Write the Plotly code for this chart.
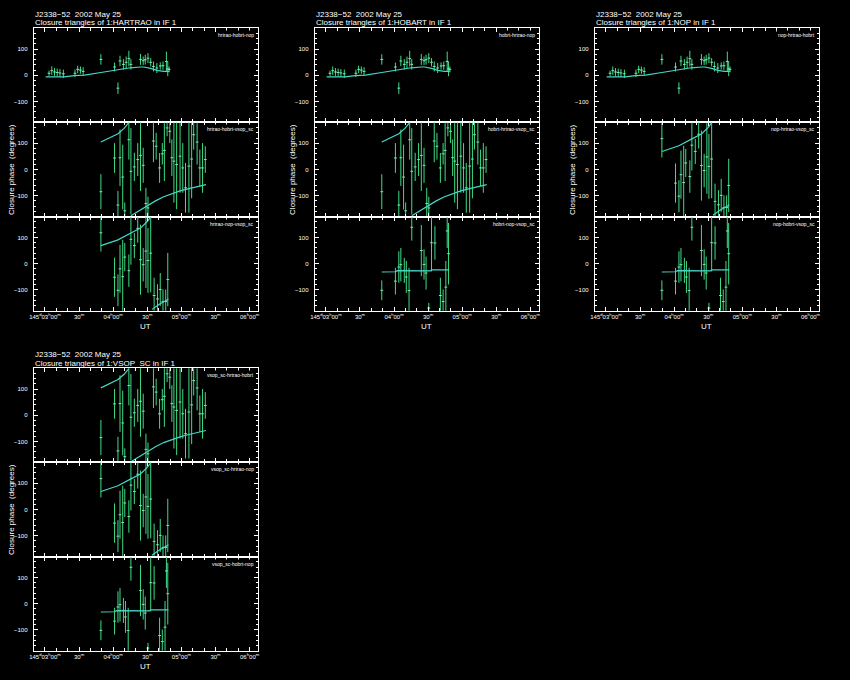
import plotly.graph_objects as go

W, H = 850, 680

# ---------------- data (UT hours, closure phase in degrees) ----------------
# Triangle A : HARTRAO-HOBART-NOP
A_t = [3.06, 3.10, 3.14, 3.18, 3.22, 3.27, 3.44, 3.48, 3.52, 3.56, 3.82, 4.02, 4.07, 4.10, 4.15,
       4.19, 4.23, 4.26, 4.40, 4.44, 4.47, 4.51, 4.55, 4.59, 4.64, 4.69, 4.73, 4.78, 4.80, 4.82]
A_phase = [8, 18, 13, 11, 9, 6, 8, 23, 20, 15, 61, 32, -49, 55, 42,
           50, 64, 42, 61, 56, 60, 66, 50, 34, 28, 36, 37, 53, 25, 23]
A_err = [10, 16, 15, 15, 15, 16, 14, 14, 14, 16, 20, 17, 22, 20, 20,
         22, 30, 20, 21, 16, 19, 19, 16, 19, 19, 14, 16, 38, 28, 11]
A_model_t = [3.01, 3.28, 3.43, 3.58, 3.82, 4.01, 4.16, 4.25, 4.40, 4.45, 4.55, 4.64, 4.74, 4.82]
A_model_v = [-6, -6, -1, 1, 11, 19, 24, 29, 32, 32, 27, 19, 15, 15]

# Triangle B : HARTRAO-HOBART-VSOP_SC
B_t = [3.82, 4.02, 4.07, 4.10, 4.14, 4.17, 4.23, 4.26, 4.31, 4.36, 4.40, 4.44, 4.48, 4.51, 4.59,
       4.63, 4.68, 4.72, 4.75, 4.79, 4.83, 4.86, 4.89, 4.93, 4.98, 5.02, 5.06, 5.11, 5.15, 5.18,
       5.23, 5.27, 5.31, 5.35]
B_phase = [-85, 44, -136, 45, -29, -158, 114, -7, 10, 38, 54, 16, -130, -147, 109,
           89, 6, 60, 73, 159, 146, 45, 32, 19, 51, 6, -70, 13, 40, 133,
           105, 6, 6, 38]
B_err = [67, 57, 54, 108, 124, 32, 76, 165, 54, 63, 136, 67, 60, 43, 81,
         51, 57, 41, 117, 32, 45, 70, 159, 171, 140, 95, 95, 178, 150, 57,
         86, 70, 95, 51]
B_model_t = [3.82, 3.95, 4.07, 4.16, 4.23, 4.26, 4.38, 4.50, 4.62, 4.74, 4.86, 4.98, 5.08, 5.18, 5.28, 5.36]
B_model_v = [105, 121, 137, 157, 179, -177, -157, -137, -120, -104, -92, -82, -75, -68, -63, -58]

# Triangle C : HARTRAO-NOP-VSOP_SC
C_t = [3.82, 4.02, 4.07, 4.10, 4.14, 4.17, 4.23, 4.26, 4.31, 4.36, 4.40, 4.44, 4.48, 4.51, 4.55,
       4.60, 4.65, 4.69, 4.73, 4.77, 4.80]
C_phase = [118, -52, -102, -20, -50, 25, -27, 93, 69, 135, 15, -4, 48, 12, 40,
           -122, -135, -99, -145, -145, -61]
C_err = [72, 75, 61, 92, 141, 54, 62, 97, 48, 55, 134, 64, 141, 124, 150,
         68, 56, 63, 46, 46, 102]
C_model_t = [3.82, 4.07, 4.26, 4.40, 4.50, 4.55, 4.57, 4.67, 4.76, 4.81]
C_model_v = [69, 91, 117, 136, 161, 178, -175, -156, -143, -135]

# Triangle D : HOBART-NOP-VSOP_SC
D_t = [3.82, 4.02, 4.07, 4.10, 4.15, 4.18, 4.22, 4.26, 4.40, 4.44, 4.47, 4.51, 4.55, 4.60, 4.68,
       4.72, 4.76, 4.78, 4.80]
D_phase = [-102, -67, -13, -4, -26, -51, -103, 139, 50, -3, -36, -170, 80, 79, -122,
           -145, -90, 125, 38]
D_err = [38, 51, 60, 64, 48, 61, 87, 51, 98, 58, 63, 20, 110, 64, 68,
         46, 100, 65, 118]
D_model_t = [3.82, 4.02, 4.05, 4.40, 4.44, 4.53, 4.55, 4.81]
D_model_v = [-32, -31, -27, -27, -28, -28, -24, -24]

TRI = {
    "A": (A_t, A_phase, A_err, A_model_t, A_model_v),
    "B": (B_t, B_phase, B_err, B_model_t, B_model_v),
    "C": (C_t, C_phase, C_err, C_model_t, C_model_v),
    "D": (D_t, D_phase, D_err, D_model_t, D_model_v),
}

x_tick_vals = [3.0, 3.5, 4.0, 4.5, 5.0, 5.5, 6.0]
x_tick_text = ["145<sup>d</sup>03<sup>h</sup>00<sup>m</sup>", "30<sup>m</sup>",
               "04<sup>h</sup>00<sup>m</sup>", "30<sup>m</sup>",
               "05<sup>h</sup>00<sup>m</sup>", "30<sup>m</sup>",
               "06<sup>h</sup>00<sup>m</sup>"]
y_tick_vals = [-100, 0, 100]
y_tick_text = ["\u2212100", "0", "100"]

title1 = "J2338\u221252  2002 May 25"
panels = [
    ("Closure triangles of 1:HARTRAO in IF 1", 29, 255, 28.3,
     [("A", "hrtrao-hobrt-nop"), ("B", "hrtrao-hobrt-vsop_sc"), ("C", "hrtrao-nop-vsop_sc")]),
    ("Closure triangles of 1:HOBART in IF 1", 312.3, 538, 28.3,
     [("A", "hobrt-hrtrao-nop"), ("B", "hobrt-hrtrao-vsop_sc"), ("D", "hobrt-nop-vsop_sc")]),
    ("Closure triangles of 1:NOP in IF 1", 594.7, 820.5, 28.3,
     [("A", "nop-hrtrao-hobrt"), ("C", "nop-hrtrao-vsop_sc"), ("D", "nop-hobrt-vsop_sc")]),
    ("Closure triangles of 1:VSOP_SC in IF 1", 29, 255, 368.3,
     [("B", "vsop_sc-hrtrao-hobrt"), ("C", "vsop_sc-hrtrao-nop"), ("D", "vsop_sc-hobrt-nop")]),
]

XR = [2.836, 6.121]
ROWH = 94.13
BAR = "#3fdc86"
MODEL = "#46d8c8"
FONT = "Liberation Sans"

fig = go.Figure()
layout = dict(width=W, height=H, margin=dict(l=0, r=0, t=0, b=0),
              paper_bgcolor="black", plot_bgcolor="black", showlegend=False,
              font=dict(family=FONT, color="white"))
annotations = []

minor_x = [3 + i / 6 for i in range(-1, 20)]
minor_x = [v for v in minor_x if XR[0] < v < XR[1]]
minor_y = [-160, -140, -120, -80, -60, -40, -20, 20, 40, 60, 80, 120, 140, 160]


def split_wrap(ts, vs):
    xs, ys = [], []
    for i, (t, v) in enumerate(zip(ts, vs)):
        if i > 0 and abs(v - vs[i - 1]) > 180:
            xs.append(None)
            ys.append(None)
        xs.append(t)
        ys.append(v)
    return xs, ys


k = 0
for (t2, x0, x1, top, rows) in panels:
    annotations.append(dict(text=title1, x=x0 / W, y=1 - (top - 13.8) / H, xref="paper", yref="paper",
                            xanchor="left", yanchor="middle", showarrow=False, borderpad=0,
                            font=dict(size=8, color="white", family=FONT)))
    annotations.append(dict(text=t2, x=x0 / W, y=1 - (top - 5.3) / H, xref="paper", yref="paper",
                            xanchor="left", yanchor="middle", showarrow=False, borderpad=0,
                            font=dict(size=8, color="white", family=FONT)))
    annotations.append(dict(text="Closure phase  (degrees)", x=(x0 - 22.5) / W,
                            y=1 - (top + 1.5 * ROWH) / H, xref="paper", yref="paper",
                            textangle=-90, xanchor="center", yanchor="middle", showarrow=False,
                            font=dict(size=8, color="white", family=FONT)))
    annotations.append(dict(text="UT", x=(x0 + x1) / 2 / W, y=1 - (top + 3 * ROWH + 16) / H,
                            xref="paper", yref="paper", xanchor="center", yanchor="middle",
                            showarrow=False, font=dict(size=8, color="white", family=FONT)))
    for r, (key, lab) in enumerate(rows):
        k += 1
        sfx = "" if k == 1 else str(k)
        ytop = top + r * ROWH
        ybot = ytop + ROWH
        bottom_row = (r == 2)
        layout["xaxis" + sfx] = dict(
            domain=[x0 / W, x1 / W], range=XR, anchor="y" + sfx,
            showline=True, linecolor="white", linewidth=1, mirror="ticks",
            ticks="inside", ticklen=4, tickcolor="white", tickwidth=1,
            tickmode="array", tickvals=x_tick_vals, ticktext=x_tick_text,
            showticklabels=bottom_row, tickfont=dict(size=6, color="white", family=FONT),
            minor=dict(tickmode="array", tickvals=minor_x, ticks="inside", ticklen=3,
                       tickcolor="white", tickwidth=1),
            showgrid=False, zeroline=False, fixedrange=True)
        layout["yaxis" + sfx] = dict(
            domain=[1 - ybot / H, 1 - ytop / H], range=[-180, 180], anchor="x" + sfx,
            showline=True, linecolor="white", linewidth=1, mirror="ticks",
            ticks="inside", ticklen=4, tickcolor="white", tickwidth=1,
            tickmode="array", tickvals=y_tick_vals, ticktext=y_tick_text,
            tickfont=dict(size=6, color="white", family=FONT), ticklabelstandoff=4,
            minor=dict(tickmode="array", tickvals=minor_y, ticks="inside", ticklen=2,
                       tickcolor="white", tickwidth=1),
            showgrid=False, zeroline=False, fixedrange=True)
        t, ph, er, mt, mv = TRI[key]
        fig.add_trace(go.Scatter(
            x=t, y=ph, mode="markers", xaxis="x" + sfx, yaxis="y" + sfx,
            marker=dict(symbol="line-ew", size=2, line=dict(width=1, color="#7fe9ae")),
            error_y=dict(type="data", array=er, visible=True, thickness=1, width=0, color=BAR),
            hoverinfo="skip"))
        mx, my = split_wrap(mt, mv)
        fig.add_trace(go.Scatter(
            x=mx, y=my, mode="lines", xaxis="x" + sfx, yaxis="y" + sfx,
            line=dict(color=MODEL, width=1.2), hoverinfo="skip"))
        annotations.append(dict(text=lab, x=(x1 - 2) / W, y=1 - (ytop + 2) / H,
                                xref="paper", yref="paper", xanchor="right", yanchor="top",
                                showarrow=False, bgcolor="black",
                                font=dict(size=5, color="white", family=FONT)))

layout["annotations"] = annotations
fig.update_layout(**layout)
fig.write_html("out.html", config={"displayModeBar": False},
               post_script="document.body.style.margin='0';document.body.style.background='black';")
